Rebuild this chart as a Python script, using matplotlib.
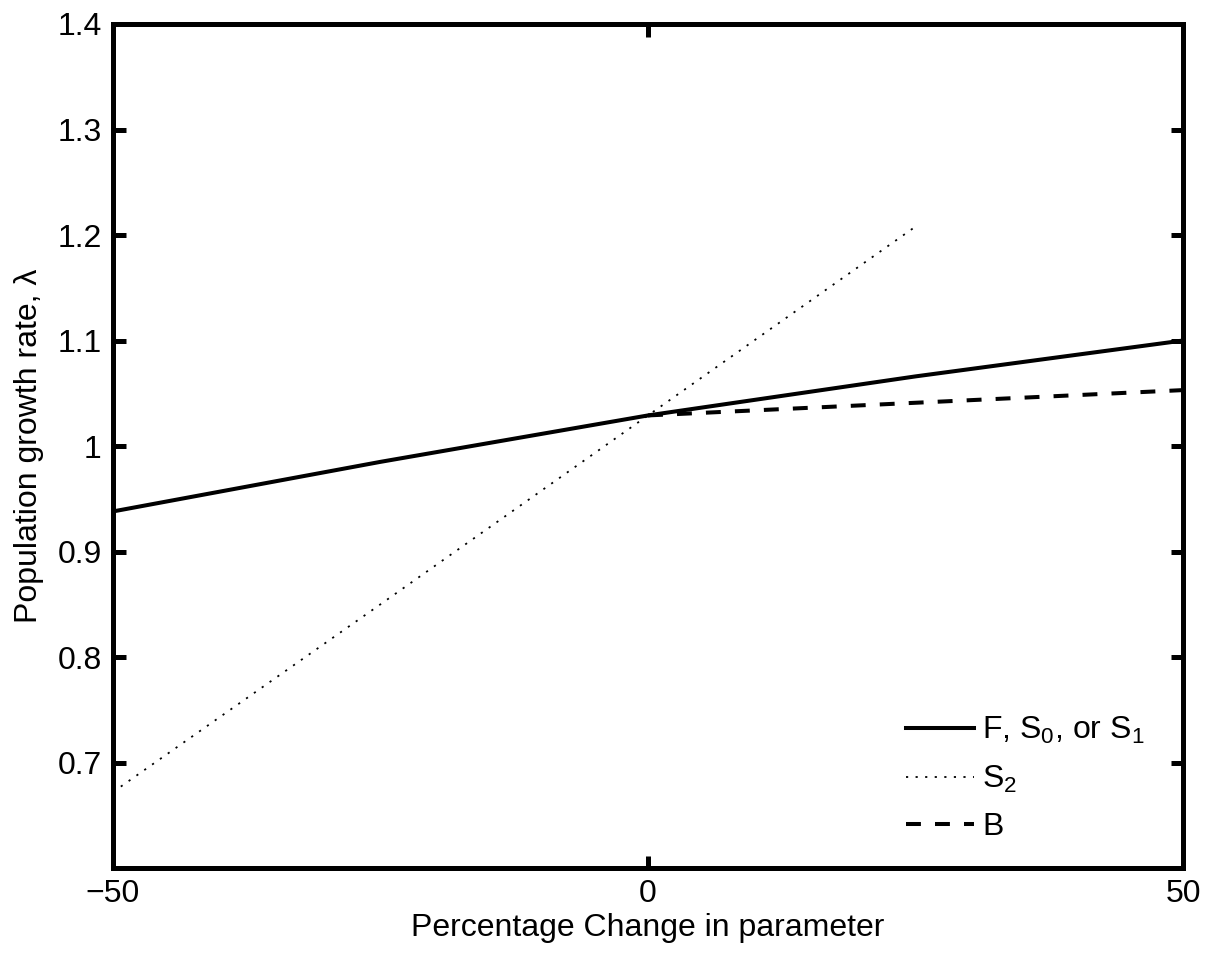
import matplotlib
matplotlib.use("Agg")
import matplotlib.pyplot as plt

# -------------------------------
# DATA
# -------------------------------
pct_fs = [-50, -25, 0, 25, 50]
lam_fs = [0.938, 0.985, 1.029, 1.066, 1.100]

pct_s2 = [-50, -25, 0, 25]
lam_s2 = [0.672, 0.850, 1.029, 1.208]

pct_b = [0, 25, 50]
lam_b = [1.029, 1.041, 1.053]

yticks = [0.7, 0.8, 0.9, 1.0, 1.1, 1.2, 1.3, 1.4]
yticklabels = ["0.7", "0.8", "0.9", "1", "1.1", "1.2", "1.3", "1.4"]
xticks = [-50, 0, 50]

plt.rcParams['font.family'] = ['Liberation Sans', 'DejaVu Sans']
plt.rcParams['mathtext.fontset'] = 'custom'
plt.rcParams['mathtext.rm'] = 'Liberation Sans'
plt.rcParams['mathtext.it'] = 'Liberation Sans:italic'
plt.rcParams['font.size'] = 23

fig = plt.figure(figsize=(12.16, 9.56), dpi=100)
ax = fig.add_axes([0.0929, 0.092, 0.880, 0.8829])

ax.plot(pct_fs, lam_fs, color='k', lw=2.9, linestyle='-', label=r'F, S$_\mathrm{0}$, or S$_\mathrm{1}$')
ax.plot(pct_s2, lam_s2, color='k', lw=1.3, linestyle=(0, (1.2, 4.1)), label=r'S$_\mathrm{2}$')
ax.plot(pct_b, lam_b, color='k', lw=2.9, linestyle=(0, (3.7, 3.5)), label='B')

ax.set_xlim(-50, 50)
ax.set_ylim(0.6, 1.4)
ax.set_xticks(xticks)
ax.set_xticklabels(["\u221250", "0", "50"])
ax.set_yticks(yticks)
ax.set_yticklabels(yticklabels)

for sp in ax.spines.values():
    sp.set_linewidth(3.6)
ax.tick_params(direction='in', length=9, width=3.6, top=True, right=True,
               labelsize=23, pad=8)

ax.set_xlabel("Percentage Change in parameter", fontsize=23, labelpad=3)
ax.set_ylabel("Population growth rate, \u03bb", fontsize=23, labelpad=10)

ax.legend(loc='lower right', frameon=False, fontsize=23, handlelength=2.15,
          handletextpad=0.25, labelspacing=0.55, borderaxespad=0.4,
          bbox_to_anchor=(0.988, 0.0))

fig.savefig("out.png", dpi=100)
